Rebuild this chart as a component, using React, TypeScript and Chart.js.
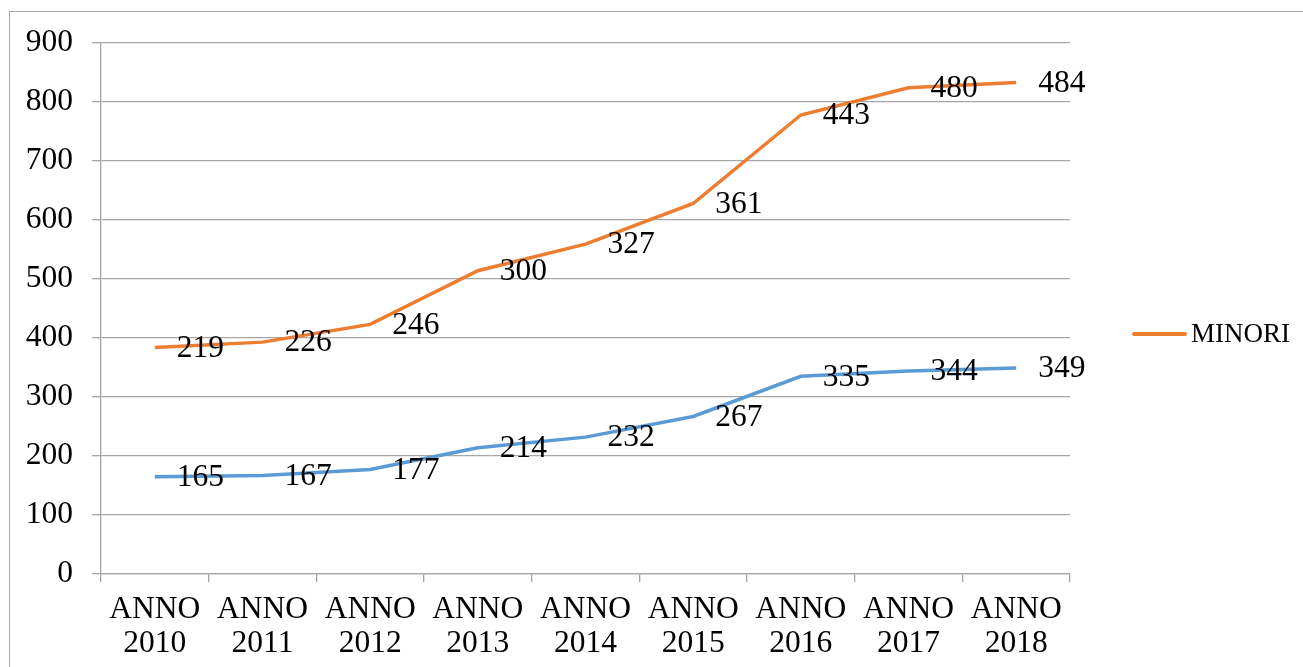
import React, { useEffect, useRef } from "react";
import { Chart, registerables } from "chart.js";

Chart.register(...registerables);

const categories: string[][] = [
  ["ANNO", "2010"], ["ANNO", "2011"], ["ANNO", "2012"], ["ANNO", "2013"], ["ANNO", "2014"],
  ["ANNO", "2015"], ["ANNO", "2016"], ["ANNO", "2017"], ["ANNO", "2018"],
];
const seriesBase: number[] = [165, 167, 177, 214, 232, 267, 335, 344, 349];
const seriesMinori: number[] = [219, 226, 246, 300, 327, 361, 443, 480, 484];
const legendLabel = "MINORI";

const FONT = "'Liberation Serif', 'Times New Roman', serif";
const BLUE = "#5B9BD5";
const ORANGE = "#ED7D31";
const GRID = "#a6a6a6";

const labelsPlugin = {
  id: "valueLabels",
  afterDatasetsDraw(chart: any) {
    const ctx = chart.ctx;
    ctx.save();
    ctx.font = `31.5px ${FONT}`;
    ctx.fillStyle = "#000";
    ctx.textAlign = "left";
    ctx.textBaseline = "middle";
    chart.data.datasets.forEach((ds: any, i: number) => {
      const meta = chart.getDatasetMeta(i);
      meta.data.forEach((pt: any, j: number) => {
        ctx.fillText(String(ds.data[j]), pt.x + 22, pt.y + 1);
      });
    });
    // custom legend
    ctx.strokeStyle = ORANGE;
    ctx.lineWidth = 4;
    ctx.lineCap = "round";
    ctx.beginPath();
    ctx.moveTo(1134, 334);
    ctx.lineTo(1185, 334);
    ctx.stroke();
    ctx.font = `27px ${FONT}`;
    ctx.fillText(legendLabel, 1191, 335);
    ctx.restore();
  },
};

export default function App() {
  const ref = useRef<HTMLCanvasElement | null>(null);
  useEffect(() => {
    if (!ref.current) return;
    const chart = new Chart(ref.current, {
      type: "line",
      data: {
        labels: categories,
        datasets: [
          {
            label: "",
            data: seriesBase,
            borderColor: BLUE,
            backgroundColor: BLUE,
            borderWidth: 3.5,
            pointRadius: 0,
            tension: 0,
            fill: false,
          },
          {
            label: legendLabel,
            data: seriesMinori,
            borderColor: ORANGE,
            backgroundColor: ORANGE,
            borderWidth: 3.5,
            pointRadius: 0,
            tension: 0,
            fill: false,
          },
        ],
      },
      options: {
        animation: false,
        responsive: false,
        maintainAspectRatio: false,
        devicePixelRatio: 1,
        layout: { padding: { top: 43, right: 233, left: 0, bottom: 0 } },
        plugins: { legend: { display: false }, tooltip: { enabled: false } },
        scales: {
          x: {
            offset: true,
            grid: { display: true, drawOnChartArea: false, drawTicks: true, tickLength: 8, offset: true, color: GRID, lineWidth: 1.3 },
            border: { display: true, color: GRID, width: 1.3 },
            ticks: { color: "#000", font: { family: FONT, size: 31.5, lineHeight: 1.08 }, padding: 11, maxRotation: 0, autoSkip: false },
            afterFit: (s: any) => { s.height = 93; },
          },
          y: {
            stacked: true,
            min: 0,
            max: 900,
            ticks: { stepSize: 100, color: "#000", font: { family: FONT, size: 31.5 }, padding: 19 },
            grid: { color: GRID, lineWidth: 1.3, tickLength: 9 },
            border: { display: true, color: GRID, width: 1.3 },
            afterFit: (s: any) => { s.width = 101; },
          },
        },
      },
      plugins: [labelsPlugin],
    });
    return () => chart.destroy();
  }, []);
  return (
    <div style={{ position: "absolute", left: 0, top: 0, width: 1303, height: 667, overflow: "hidden", background: "#fff" }}>
      <div style={{ position: "absolute", left: 9, top: 11, width: 1400, height: 800, border: "1.3px solid #a6a6a6" }} />
      <canvas ref={ref} width={1303} height={667} style={{ position: "absolute", left: 0, top: 0, width: 1303, height: 667 }} />
    </div>
  );
}
